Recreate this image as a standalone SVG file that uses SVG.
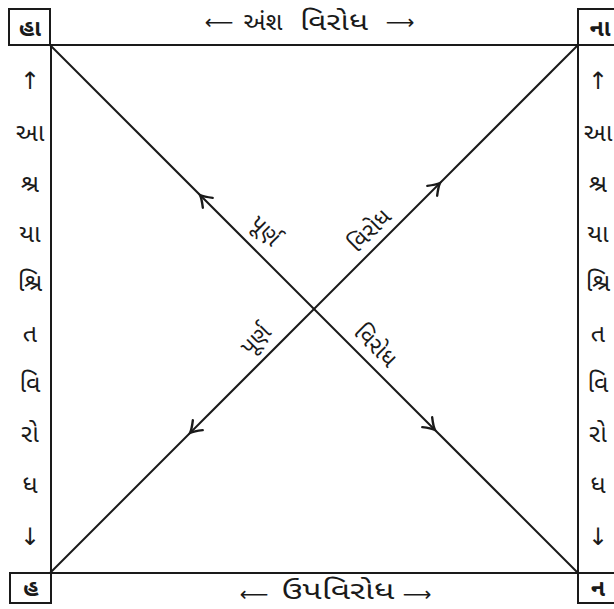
<svg xmlns="http://www.w3.org/2000/svg" width="614" height="609" viewBox="0 0 614 609">
<style>
.ln{stroke:#1a1a1a;stroke-width:2;fill:none}
.box{stroke:#1a1a1a;stroke-width:2;fill:#fff}
.t{font-family:"Noto Sans Gujarati","Lohit Gujarati","Noto Sans",sans-serif;font-size:25px;fill:#1a1a1a;text-anchor:middle}
.a{font-family:"DejaVu Sans",sans-serif;font-size:24px;fill:#1a1a1a;text-anchor:middle}
.h{font-family:"DejaVu Sans",sans-serif;font-size:20px;fill:#1a1a1a;text-anchor:middle}
.c{font-weight:bold;font-size:23px}
.d{font-size:23px}
</style>
<defs>
<path id="ah" d="M-11,-7 Q-4,-1.5 0,0 Q-4,1.5 -11,7" stroke="#1a1a1a" stroke-width="2.4" fill="none" stroke-linecap="round"/>
</defs>
<rect width="614" height="609" fill="#fff"/>
<g id="connectors">
<line class="ln" x1="50" y1="45" x2="578" y2="45"/>
<line class="ln" x1="50" y1="573" x2="578" y2="573"/>
<line class="ln" x1="51" y1="45" x2="51" y2="573"/>
<line class="ln" x1="578" y1="45" x2="578" y2="573"/>
<line class="ln" x1="50" y1="45" x2="578" y2="573"/>
<line class="ln" x1="578" y1="45" x2="50" y2="573"/>
<use href="#ah" transform="translate(200,195) rotate(225)"/>
<use href="#ah" transform="translate(440,183) rotate(-45)"/>
<use href="#ah" transform="translate(190,433) rotate(135)"/>
<use href="#ah" transform="translate(435,430) rotate(45)"/>
<text class="t d" transform="translate(260,236) rotate(45)">પૂર્ણ</text>
<text class="t d" transform="translate(375,236) rotate(-45)">વિરોધ</text>
<text class="t d" transform="translate(261,345) rotate(-45)">પૂર્ણ</text>
<text class="t d" transform="translate(370,351) rotate(45)">વિરોધ</text>
</g>
<g id="top-label">
<text class="h" x="219" y="29">⟵</text>
<text class="t" x="263" y="30">અંશ</text>
<text class="t" x="334" y="30" textLength="68" lengthAdjust="spacingAndGlyphs">વિરોધ</text>
<text class="h" x="400" y="29">⟶</text>
</g>
<g id="bottom-label">
<text class="h" x="254" y="601">⟵</text>
<text class="t" x="338" y="599" textLength="113" lengthAdjust="spacingAndGlyphs">ઉપવિરોધ</text>
<text class="h" x="417" y="601">⟶</text>
</g>
<g id="node-ha">
<rect class="box" x="9" y="9" width="41" height="36"/>
<text class="t c" x="30" y="36">હા</text>
</g>
<g id="node-na2">
<rect class="box" x="578" y="9" width="50" height="36"/>
<text class="t c" x="600" y="36">ના</text>
</g>
<g id="node-h">
<rect class="box" x="10" y="573" width="41" height="30"/>
<text class="t c" x="31" y="596">હ</text>
</g>
<g id="node-n">
<rect class="box" x="578" y="573" width="50" height="30"/>
<text class="t c" x="598" y="596">ન</text>
</g>
<g id="left-label">
<text class="a" x="30" y="89">↑</text>
<text class="t" x="30" y="141">આ</text>
<text class="t" x="30" y="192">શ્ર</text>
<text class="t" x="30" y="242">યા</text>
<text class="t" x="30" y="291">શ્રિ</text>
<text class="t" x="30" y="342">ત</text>
<text class="t" x="30" y="392">વિ</text>
<text class="t" x="30" y="442">રો</text>
<text class="t" x="30" y="493">ધ</text>
<text class="a" x="30" y="545">↓</text>
</g>
<g id="right-label">
<text class="a" x="598" y="89">↑</text>
<text class="t" x="598" y="141">આ</text>
<text class="t" x="598" y="192">શ્ર</text>
<text class="t" x="598" y="242">યા</text>
<text class="t" x="598" y="291">શ્રિ</text>
<text class="t" x="598" y="342">ત</text>
<text class="t" x="598" y="392">વિ</text>
<text class="t" x="598" y="442">રો</text>
<text class="t" x="598" y="493">ધ</text>
<text class="a" x="598" y="545">↓</text>
</g>
</svg>
